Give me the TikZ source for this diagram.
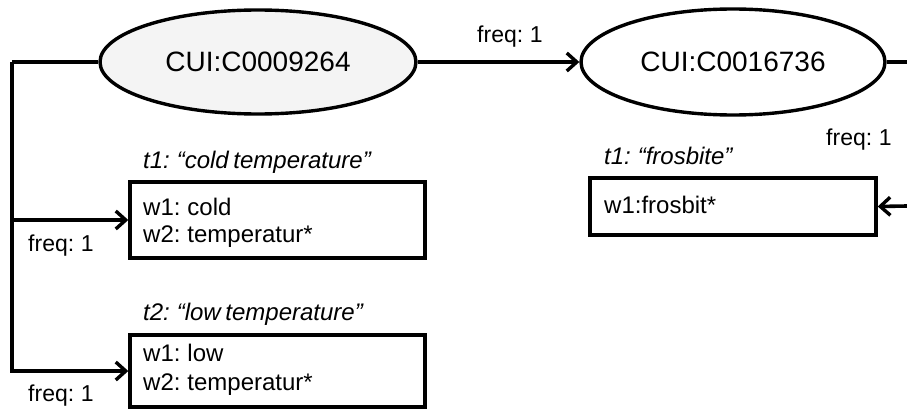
\documentclass[tikz,border=0pt]{standalone}
\usepackage{fontspec}
\setmainfont{Liberation Sans}[WordSpace=0.7]
\usetikzlibrary{arrows.meta,shapes.geometric}
\begin{document}
\begin{tikzpicture}[x=1pt,y=-1pt,
  lw/.style={line width=3.6pt,line join=miter},
  concept/.style={ellipse,draw,line width=3.4pt,inner sep=0pt,font=\fontsize{28}{30}\selectfont},
  wbox/.style={draw,line width=3.4pt,inner sep=0pt},
  txt/.style={anchor=west,inner sep=0pt,font=\fontsize{24}{28}\selectfont},
  ttl/.style={anchor=west,inner sep=0pt,font=\fontsize{24}{28}\selectfont\itshape},
  freq/.style={anchor=west,inner sep=0pt,font=\fontsize{23}{26}\selectfont},
  arr/.style={line width=3.6pt,line join=miter,-{Straight Barb[length=10pt,width=18pt,line width=3.4pt]}}
]
\useasboundingbox (0,0) rectangle (907,412);

\node[concept,fill=gray!9,minimum width=316pt,minimum height=104pt] (e1) at (258,62) {CUI:C0009264};
\node[concept,minimum width=304pt,minimum height=106pt] (e2) at (733,62) {CUI:C0016736};

\node[wbox,minimum width=295pt,minimum height=76pt] (b1) at (277.5,220) {};
\node[wbox,minimum width=295pt,minimum height=72pt] (b2) at (277.5,371) {};
\node[wbox,minimum width=286pt,minimum height=57pt] (b3) at (733,206.5) {};

\node[txt] (b1a) at (143,207) {w1: cold};
\node[txt] (b1b) at (143,237) {w2: temperatur*};
\node[txt] (b2a) at (143,353) {w1: low};
\node[txt] (b2b) at (143,385) {w2: temperatur*};
\node[txt] (b3a) at (604,205) {w1:frosbit*};

\node[ttl] (t1) at (143,162) {t1: “cold temperature”};
\node[ttl] (t2) at (143,314) {t2: “low temperature”};
\node[ttl] (t3) at (604,156) {t1: “frosbite”};

\node[freq] (f1) at (477,37) {freq: 1};
\node[freq] (f2) at (826,140) {freq: 1};
\node[freq] (f3) at (28,246) {freq: 1};
\node[freq] (f4) at (28,396) {freq: 1};

\coordinate (lc) at (12,62);
\coordinate (r1) at (907,62);
\coordinate (r2) at (907,206);

\draw[arr] (e1.east) -- (e2.west);
\draw[lw] (e2.east) -- (r1);
\draw[arr] (r2) -- (b3.east);
\draw[lw] (e1.west) -- (lc);
\draw[arr] (lc) |- (b1.west);
\draw[arr] (lc) |- (b2.west);
\end{tikzpicture}
\end{document}
